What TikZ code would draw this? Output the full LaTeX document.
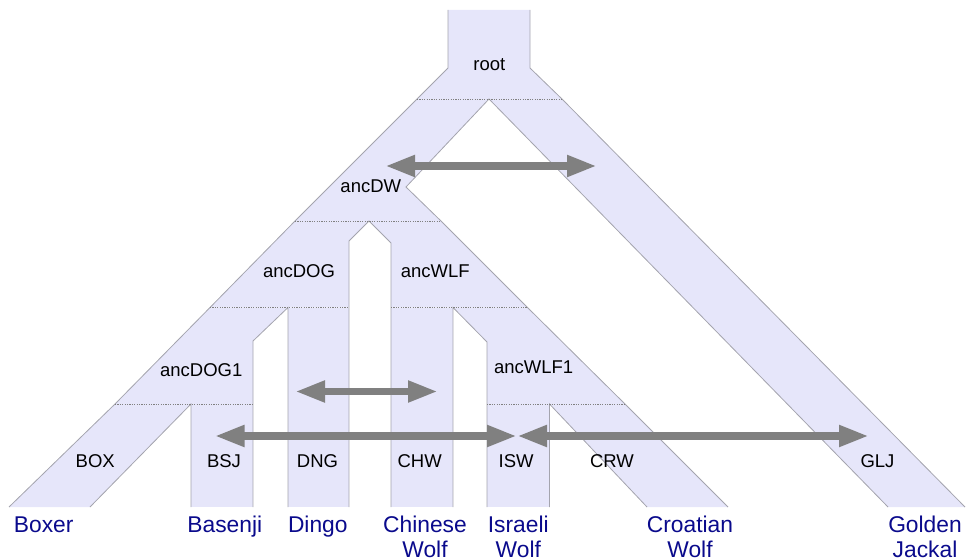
\documentclass[tikz,border=0pt]{standalone}
\usepackage{fontspec}
\setmainfont{Liberation Sans}
\usetikzlibrary{arrows.meta}
\definecolor{tubefill}{HTML}{E6E6FA}
\definecolor{tubeedge}{HTML}{A4A4AE}
\definecolor{popblue}{HTML}{0A0A8C}
\definecolor{miggray}{HTML}{808080}

\begin{document}
\begin{tikzpicture}[x=1pt, y=-1pt,
    tube/.style={fill=tubefill},
    rim/.style={draw=tubeedge, line width=0.8pt},
    cut/.style={draw=gray, line width=0.8pt, dash pattern=on 1.2pt off 1.2pt},
    deme/.style={anchor=base, inner sep=0pt, font=\fontsize{18.5}{22}\selectfont},
    pop/.style={anchor=base, inner sep=0pt, align=center, text=popblue, font=\fontsize{22.8}{25.5}\selectfont},
    mig/.style={{Triangle[length=30pt, width=20pt]}-{Triangle[length=30pt, width=20pt]}, line width=7.5pt, draw=miggray},
]
\useasboundingbox (0,0) rectangle (966,559);

\fill[tube] (448,10) -- (530,10) -- (530,68) -- (562,99) -- (417,99) -- (448,68) -- cycle;
\fill[tube] (417,99) -- (489,99) -- (406,187) -- (441,221) -- (295,221) -- cycle;
\fill[tube] (489,99) -- (562,99) -- (965,507) -- (888,507) -- cycle;
\fill[tube] (295,221) -- (369,221) -- (349,241) -- (349,307.5) -- (210,307.5) -- cycle;
\fill[tube] (369,221) -- (441,221) -- (527.5,307.5) -- (391,307.5) -- (391,243) -- cycle;
\fill[tube] (288,307.5) rectangle (349,507);
\fill[tube] (210,307.5) -- (288,307.5) -- (253,341) -- (253,404) -- (115,404) -- cycle;
\fill[tube] (391,307.5) rectangle (453,507);
\fill[tube] (453,307.5) -- (527.5,307.5) -- (625,404) -- (487,404) -- (487,342) -- cycle;
\fill[tube] (115,404) -- (191,404) -- (90,507) -- (9,507) -- cycle;
\fill[tube] (191,404) rectangle (253,507);
\fill[tube] (487,404) rectangle (549.5,507);
\fill[tube] (549.5,404) -- (625,404) -- (728,507) -- (647,507) -- cycle;

\draw[rim] (448,10) -- (448,68) -- (417,99) -- (295,221) -- (210,307.5) -- (115,404) -- (9,507);
\draw[rim] (530,10) -- (530,68) -- (562,99) -- (965,507);
\draw[rim] (888,507) -- (489,99) -- (406,187) -- (441,221) -- (527.5,307.5) -- (625,404) -- (728,507);
\draw[rim] (349,507) -- (349,241) -- (369,221) -- (391,243) -- (391,507);
\draw[rim] (288,507) -- (288,307.5) -- (253,341) -- (253,507);
\draw[rim] (453,507) -- (453,307.5) -- (487,342) -- (487,507);
\draw[rim] (90,507) -- (191,404) -- (191,507);
\draw[rim] (549.5,507) -- (549.5,404) -- (647,507);

\draw[cut] (417,99) -- (562,99);
\draw[cut] (295,221) -- (441,221);
\draw[cut] (210,307.5) -- (349,307.5);
\draw[cut] (391,307.5) -- (527.5,307.5);
\draw[cut] (115,404) -- (253,404);
\draw[cut] (487,404) -- (625,404);

\node[deme] (root) at (489.3,71) {root};
\node[deme] (ancDW) at (370.8,192) {ancDW};
\node[deme] (ancDOG) at (299,277.7) {ancDOG};
\node[deme] (ancWLF) at (435.3,277.7) {ancWLF};
\node[deme] (ancDOG1) at (201.3,376.7) {ancDOG1};
\node[deme] (ancWLF1) at (533.7,373.3) {ancWLF1};
\node[deme] (BOX) at (95.2,467.3) {BOX};
\node[deme] (BSJ) at (224,467.3) {BSJ};
\node[deme] (DNG) at (317.5,467.3) {DNG};
\node[deme] (CHW) at (419.7,467.3) {CHW};
\node[deme] (ISW) at (516.2,467.3) {ISW};
\node[deme] (CRW) at (612,467.3) {CRW};
\node[deme] (GLJ) at (877.5,467.3) {GLJ};

\node[pop] (boxer) at (43.7,532) {Boxer};
\node[pop] (basenji) at (224.8,532) {Basenji};
\node[pop] (dingo) at (317.8,532) {Dingo};
\node[pop] (chinese) at (425,557.5) {Chinese\\Wolf};
\node[pop] (israeli) at (518.3,557.5) {Israeli\\Wolf};
\node[pop] (croatian) at (690,557.5) {Croatian\\Wolf};
\node[pop] (golden) at (925,557.5) {Golden\\Jackal};

\coordinate (DWm) at (385,166);
\coordinate (GLJm) at (597,166);
\coordinate (DNGm) at (295,391.5);
\coordinate (CHWm) at (438,391.5);
\coordinate (BSJm) at (214.5,436);
\coordinate (ISWm) at (517,436);
\coordinate (GLJm2) at (869,436);

\draw[mig] (DWm) -- (GLJm);
\draw[mig] (DNGm) -- (CHWm);
\draw[mig] (BSJm) -- (ISWm);
\draw[mig] (ISWm) -- (GLJm2);
\end{tikzpicture}
\end{document}
